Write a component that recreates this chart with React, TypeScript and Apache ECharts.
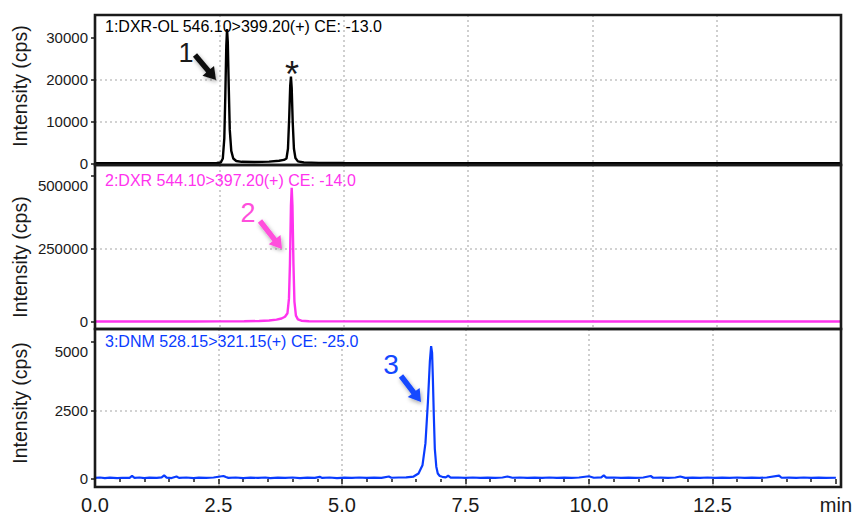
import React, { useEffect, useRef } from "react";
import * as echarts from "echarts";

// ---------- data ----------
const panelTitles = [
  "1:DXR-OL 546.10>399.20(+) CE: -13.0",
  "2:DXR 544.10>397.20(+) CE: -14.0",
  "3:DNM 528.15>321.15(+) CE: -25.0",
];
const yAxisTitle = "Intensity (cps)";
const xUnitLabel = "min";
const xTickStep = 2.5;
const xMax = 15;

const yTicksDxrOl = [0, 10000, 20000, 30000];
const yTicksDxr = [0, 250000, 500000];
const yTicksDnm = [0, 2500, 5000];

// [time (min), intensity (cps)]
const dxrOlTrace: [number, number][] = [
  [0, 80], [0.5, 60], [1.0, 90], [1.5, 70], [2.0, 80], [2.3, 90], [2.45, 120],
  [2.53, 250], [2.57, 1200], [2.6, 6000], [2.62, 16000], [2.64, 28000],
  [2.655, 32000], [2.67, 29000], [2.69, 18000], [2.71, 8000], [2.74, 3000],
  [2.78, 1200], [2.84, 600], [2.95, 400], [3.2, 350], [3.5, 450], [3.7, 650],
  [3.8, 850], [3.85, 1200], [3.88, 3500], [3.905, 11000], [3.925, 18500],
  [3.94, 20700], [3.955, 18000], [3.975, 10000], [4.0, 3500], [4.03, 1300],
  [4.08, 500], [4.2, 250], [4.5, 150], [5, 120], [6, 100], [7, 90], [8, 100],
  [9, 80], [10, 90], [11, 80], [12, 90], [13, 80], [14, 90], [15, 80],
];

const dxrTrace: [number, number][] = [
  [0, 1500], [1, 1500], [2, 1800], [2.5, 2000], [3.0, 2500], [3.3, 3500],
  [3.5, 5000], [3.65, 8000], [3.75, 12000], [3.82, 18000], [3.87, 30000],
  [3.9, 80000], [3.92, 200000], [3.94, 400000], [3.955, 460000],
  [3.97, 400000], [3.99, 200000], [4.01, 70000], [4.04, 22000], [4.08, 9000],
  [4.15, 4500], [4.3, 2500], [5, 2000], [7, 1800], [10, 1500], [15, 1500],
];

const dnmTrace: [number, number][] = [
  [0, 40], [0.1, 55], [0.2, 35], [0.3, 50], [0.45, 30], [0.55, 45], [0.7, 40],
  [0.75, 110], [0.8, 40], [0.9, 55], [1.0, 35], [1.1, 50], [1.25, 40],
  [1.35, 60], [1.4, 130], [1.45, 50], [1.55, 35], [1.65, 90], [1.7, 40],
  [1.85, 55], [2.0, 35], [2.1, 50], [2.25, 40], [2.4, 55], [2.6, 110],
  [2.65, 70], [2.7, 40], [2.85, 55], [3.0, 35], [3.15, 50], [3.3, 40],
  [3.45, 55], [3.55, 35], [3.7, 50], [3.85, 40], [4.0, 55], [4.15, 35],
  [4.3, 50], [4.45, 40], [4.55, 80], [4.6, 40], [4.75, 55], [4.9, 35],
  [5.05, 50], [5.2, 40], [5.35, 55], [5.5, 40], [5.65, 50], [5.8, 40],
  [5.95, 90], [6.0, 45], [6.15, 55], [6.3, 60], [6.45, 90], [6.55, 200],
  [6.63, 500], [6.69, 1300], [6.74, 2800], [6.78, 4300], [6.805, 4850],
  [6.825, 4600], [6.84, 3700], [6.86, 2300], [6.88, 1100], [6.91, 450],
  [6.94, 200], [6.98, 110], [7.03, 80], [7.1, 60], [7.15, 120], [7.2, 50],
  [7.35, 55], [7.5, 40], [7.65, 55], [7.8, 40], [7.95, 50], [8.1, 40],
  [8.25, 55], [8.35, 90], [8.45, 45], [8.6, 55], [8.75, 40], [8.9, 50],
  [9.05, 40], [9.2, 55], [9.35, 40], [9.5, 50], [9.65, 40], [9.8, 55],
  [10.0, 100], [10.1, 45], [10.25, 60], [10.3, 130], [10.35, 50], [10.5, 55],
  [10.65, 40], [10.8, 50], [10.95, 40], [11.1, 55], [11.25, 110], [11.3, 45],
  [11.45, 50], [11.6, 40], [11.75, 55], [11.85, 90], [11.95, 40], [12.1, 50],
  [12.25, 40], [12.4, 55], [12.55, 40], [12.7, 50], [12.85, 40], [13.0, 55],
  [13.15, 40], [13.3, 50], [13.45, 40], [13.6, 55], [13.85, 120], [13.9, 45],
  [14.05, 50], [14.2, 40], [14.35, 55], [14.5, 40], [14.65, 50], [14.8, 40],
  [15.0, 45],
];

// ---------- styling ----------
const FONT = "Liberation Sans, Arial, Helvetica, sans-serif";
const INK = "#1a1a1a";
const GRID_LINE = "#c4c4c4";
const COLORS = ["#000000", "#ff33ee", "#0a3cff"];
const ARROW_COLORS = ["#111111", "#ff4fdc", "#1448ff"];

const PLOT_LEFT = 95;
const PLOT_RIGHT = 14;
const CHART_W = 855;

function arrowPoints(sx: number, sy: number, tx: number, ty: number) {
  const dx = tx - sx;
  const dy = ty - sy;
  const len = Math.sqrt(dx * dx + dy * dy);
  const ux = dx / len;
  const uy = dy / len;
  const nx = -uy;
  const ny = ux;
  const w = 2.7;
  const hw = 7.5;
  const hl = 12;
  const hx = tx - ux * hl;
  const hy = ty - uy * hl;
  return [
    [sx + nx * w, sy + ny * w],
    [hx + nx * w, hy + ny * w],
    [hx + nx * hw, hy + ny * hw],
    [tx, ty],
    [hx - nx * hw, hy - ny * hw],
    [hx - nx * w, hy - ny * w],
    [sx - nx * w, sy - ny * w],
  ];
}

export default function App() {
  const ref = useRef<HTMLDivElement>(null);

  useEffect(() => {
    if (!ref.current) return;
    const chart = echarts.init(ref.current, undefined, { renderer: "svg" });

    const grids = [
      { top: 15, height: 150 },
      { top: 165, height: 164 },
      { top: 329, height: 158 },
    ];
    const yRanges = [
      [-357, 35357],
      [-23973, 537671],
      [-292, 5474],
    ];
    const yTickLists = [yTicksDxrOl, yTicksDxr, yTicksDnm];
    const shiftTop = [false, true, true];
    const traces = [dxrOlTrace, dxrTrace, dnmTrace];
    const lineWidths = [2.4, 2.4, 2.2];

    const splitLine = {
      show: true,
      showMinLine: false,
      showMaxLine: false,
      lineStyle: { color: GRID_LINE, width: 1.6, type: [2, 3] as any },
    };

    const plotW = CHART_W - PLOT_LEFT - PLOT_RIGHT;

    const option: any = {
      animation: false,
      backgroundColor: "#ffffff",
      grid: grids.map((g) => ({
        left: PLOT_LEFT,
        right: PLOT_RIGHT,
        top: g.top,
        height: g.height,
        show: false,
        containLabel: false,
      })),
      xAxis: grids.map((_, i) => ({
        type: "value",
        gridIndex: i,
        min: 0,
        max: xMax,
        interval: xTickStep,
        axisLine: { show: false },
        axisTick: {
          show: i === 2,
          length: 5,
          lineStyle: { color: INK, width: 1.5 },
        },
        minorTick: {
          show: i === 2,
          splitNumber: 5,
          length: 3,
          lineStyle: { color: INK, width: 1.5 },
        },
        axisLabel: {
          show: i === 2,
          fontFamily: FONT,
          fontSize: 20,
          color: INK,
          margin: 8,
          showMaxLabel: true,
          formatter: (v: number) => (v === xMax ? xUnitLabel : v.toFixed(1)),
        },
        splitLine,
      })),
      yAxis: grids.map((_, i) => {
        const ticks = yTickLists[i];
        const top = ticks[ticks.length - 1];
        return {
          type: "value",
          gridIndex: i,
          min: yRanges[i][0],
          max: yRanges[i][1],
          minInterval: ticks[1],
          maxInterval: ticks[1],
          axisLine: { show: false },
          axisTick: {
            show: true,
            length: 4,
            customValues: ticks,
            lineStyle: { color: INK, width: 1.5 },
          },
          axisLabel: {
            show: true,
            customValues: ticks,
            fontFamily: FONT,
            fontSize: 15,
            color: INK,
            margin: 7,
            lineHeight: 19,
            showMinLabel: true,
            showMaxLabel: true,
            formatter: (v: number) => {
              if (ticks.indexOf(v) < 0) return "";
              if (shiftTop[i] && v === top) return "\n" + String(v);
              return String(v);
            },
          },
          splitLine,
        };
      }),
      series: traces.map((d, i) => ({
        type: "line",
        xAxisIndex: i,
        yAxisIndex: i,
        data: d,
        showSymbol: false,
        symbol: "none",
        smooth: false,
        clip: true,
        lineStyle: { color: COLORS[i], width: lineWidths[i] },
        z: 3,
      })),
      graphic: [
        // panel frames
        ...grids.map((g) => ({
          type: "rect",
          z: 20,
          shape: { x: PLOT_LEFT, y: g.top, width: plotW, height: g.height },
          style: { fill: "none", stroke: INK, lineWidth: 2.6 },
        })),
        // y axis titles
        ...[86, 257, 403].map((cy) => ({
          type: "text",
          x: 20,
          y: cy,
          rotation: Math.PI / 2,
          style: {
            text: yAxisTitle,
            fontFamily: FONT,
            fontSize: 19.5,
            fill: INK,
            align: "center",
            verticalAlign: "middle",
          },
        })),
        // panel titles
        ...[26, 180, 341].map((cy, i) => ({
          type: "text",
          x: 105,
          y: cy,
          z: 10,
          style: {
            text: panelTitles[i],
            fontFamily: FONT,
            fontSize: 16,
            fill: COLORS[i],
            align: "left",
            verticalAlign: "middle",
          },
        })),
        // peak labels
        {
          type: "text",
          x: 186,
          y: 53,
          z: 10,
          style: { text: "1", fontFamily: FONT, fontSize: 27, fill: INK, align: "center", verticalAlign: "middle" },
        },
        {
          type: "text",
          x: 292,
          y: 74,
          z: 10,
          style: { text: "*", fontFamily: FONT, fontSize: 36, fill: INK, align: "center", verticalAlign: "middle" },
        },
        {
          type: "text",
          x: 248,
          y: 213,
          z: 10,
          style: { text: "2", fontFamily: FONT, fontSize: 27, fill: ARROW_COLORS[1], align: "center", verticalAlign: "middle" },
        },
        {
          type: "text",
          x: 391,
          y: 364,
          z: 10,
          style: { text: "3", fontFamily: FONT, fontSize: 28, fill: ARROW_COLORS[2], align: "center", verticalAlign: "middle" },
        },
        // arrows
        ...[
          [195, 55, 216, 80],
          [260, 221, 282, 249],
          [401, 376, 421, 402],
        ].map((a, i) => ({
          type: "polygon",
          z: 10,
          shape: { points: arrowPoints(a[0], a[1], a[2], a[3]) },
          style: {
            fill: ARROW_COLORS[i],
            shadowBlur: 4,
            shadowOffsetX: 1,
            shadowOffsetY: 2,
            shadowColor: "rgba(0,0,0,0.35)",
          },
        })),
      ],
    };

    chart.setOption(option);
    return () => chart.dispose();
  }, []);

  return (
    <div
      ref={ref}
      style={{ position: "fixed", left: 0, top: 0, width: 855, height: 515, background: "#fff" }}
    />
  );
}
